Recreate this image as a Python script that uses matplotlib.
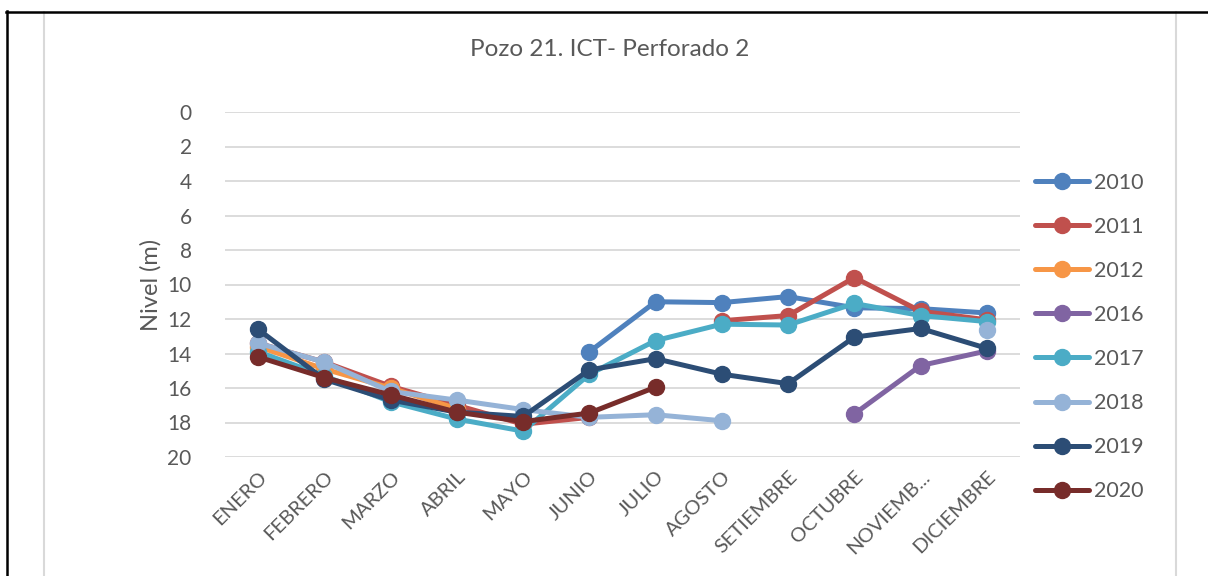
import numpy as np
from matplotlib import pyplot as plt
from matplotlib.lines import Line2D

nan = np.nan

months = ["ENERO", "FEBRERO", "MARZO", "ABRIL", "MAYO", "JUNIO", "JULIO",
          "AGOSTO", "SETIEMBRE", "OCTUBRE", "NOVIEMB...", "DICIEMBRE"]

years = ["2010", "2011", "2012", "2016", "2017", "2018", "2019", "2020"]

nivel_2010 = [nan, nan, nan, nan, nan, 13.9, 11.0, 11.05, 10.7, 11.35, 11.4, 11.65]
nivel_2011 = [13.4, 14.5, 15.9, 17.0, 18.1, 17.7, nan, 12.1, 11.8, 9.6, 11.55, 12.05]
nivel_2012 = [13.6, 14.9, 16.0, 17.2, nan, nan, nan, nan, nan, nan, nan, nan]
nivel_2016 = [nan, nan, nan, nan, nan, nan, nan, nan, nan, 17.5, 14.7, 13.85]
nivel_2017 = [13.9, 15.3, 16.8, 17.8, 18.5, 15.2, 13.25, 12.3, 12.35, 11.1, 11.8, 12.15]
nivel_2018 = [13.4, 14.5, 16.2, 16.7, 17.25, 17.7, 17.55, 17.9, nan, nan, nan, 12.65]
nivel_2019 = [12.6, 15.5, 16.7, 17.4, 17.65, 14.95, 14.3, 15.2, 15.75, 13.05, 12.55, 13.7]
nivel_2020 = [14.2, 15.4, 16.4, 17.4, 17.95, 17.45, 15.95, nan, nan, nan, nan, nan]

series = [nivel_2010, nivel_2011, nivel_2012, nivel_2016,
          nivel_2017, nivel_2018, nivel_2019, nivel_2020]
colors = ["#4F81BD", "#C0504D", "#F79646", "#8064A2",
          "#4BACC6", "#95B3D7", "#2C4D75", "#772C2A"]

plt.rcParams['font.family'] = ['Lato', 'DejaVu Sans']
text_color = "#595959"

fig = plt.figure(figsize=(12.08, 5.76), dpi=100)
ax = fig.add_axes([225 / 1208, 1 - 457 / 576, 795 / 1208, 345 / 576])

x = np.arange(len(months))
for name, vals, c in zip(years, series, colors):
    ax.plot(x, vals, color=c, lw=3.6, marker='o', markersize=11.5,
            solid_capstyle='round', label=name)

ax.set_xlim(-0.5, len(months) - 0.5)
ax.set_ylim(20, 0)
ax.set_yticks(np.arange(0, 21, 2))
ax.grid(axis='y', color='#D9D9D9', lw=1.3)
ax.set_axisbelow(True)
for s in ax.spines.values():
    s.set_visible(False)
ax.tick_params(axis='both', length=0, colors=text_color, labelsize=15)
ax.tick_params(axis='y', pad=24)
ax.set_xticks(x)
ax.set_xticklabels(months, rotation=45, ha='right', va='top',
                   rotation_mode='anchor', fontsize=14.5)
ax.tick_params(axis='x', pad=8)
ax.set_ylabel("Nivel (m)", fontsize=17, color=text_color, labelpad=4)

fig.text(610 / 1208, 1 - 50 / 576, "Pozo 21. ICT- Perforado 2", ha='center',
         va='center', fontsize=17.5, color=text_color)

ax.legend(loc='center left', bbox_to_anchor=(1.0, 0.348), frameon=False,
          fontsize=15.5, labelcolor=text_color, handlelength=2.5,
          labelspacing=1.12, handletextpad=0.25, borderaxespad=0.3)

# chart frame and page borders
def fline(x0, y0, x1, y1, c, lw):
    fig.add_artist(Line2D([x0 / 1208, x1 / 1208], [1 - y0 / 576, 1 - y1 / 576],
                          color=c, lw=lw, transform=fig.transFigure))

fline(44, 12, 44, 576, '#D9D9D9', 1.5)
fline(1176, 12, 1176, 576, '#D9D9D9', 1.5)
fline(6, 11.5, 1208, 11.5, 'black', 1.8)
fline(6.5, 11, 6.5, 576, 'black', 1.8)

fig.savefig("out.png", dpi=100)
